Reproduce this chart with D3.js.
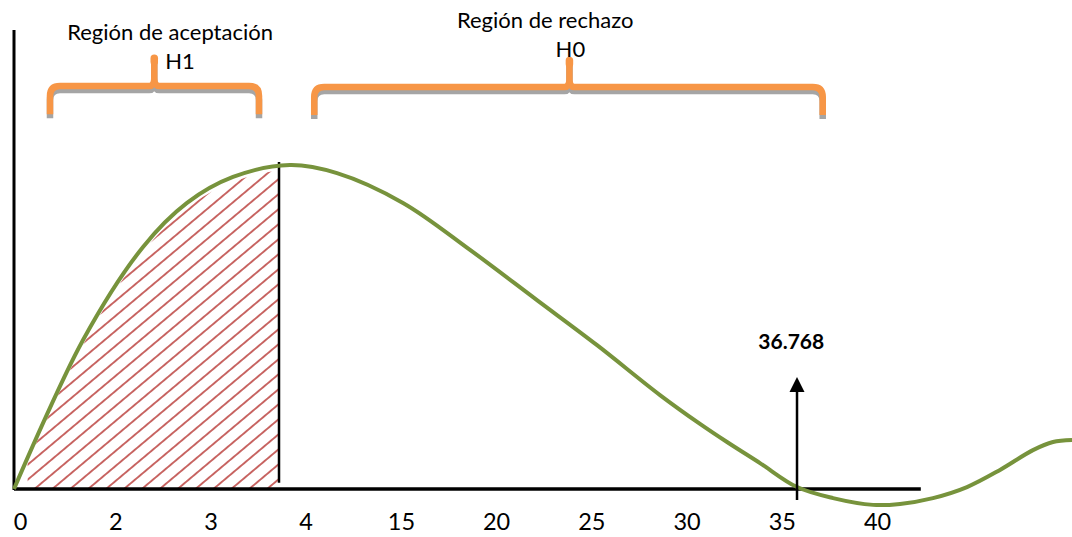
<!DOCTYPE html>
<html>
<head>
<meta charset="utf-8">
<script src="https://cdn.jsdelivr.net/npm/d3@7"></script>
<style>
  html, body { margin: 0; padding: 0; background: #fff; }
  svg { display: block; }
  text { font-family: Lato, "Open Sans", sans-serif; fill: #000; }
</style>
</head>
<body>
<svg id="chart" width="1072" height="537"></svg>
<script>
// ---- data ----
const tickLabels = ["0", "2", "3", "4", "15", "20", "25", "30", "35", "40"];
// curve: position along the label index axis, density value
const curveIdx = [-0.063, 0.662, 1.292, 1.754, 2.237, 2.835, 3.329, 4.022, 4.726, 5.429, 6.060, 6.721, 7.141, 7.425, 7.771, 8.160, 8.538, 8.958, 9.242, 9.588, 9.945, 10.292, 10.638, 10.848, 11.048];
const curveVal = [0.0000, 0.0460, 0.0747, 0.0883, 0.0963, 0.1000, 0.0975, 0.0883, 0.0738, 0.0583, 0.0444, 0.0290, 0.0201, 0.0145, 0.0080, 0.0006, -0.0028, -0.0049, -0.0046, -0.0028, 0.0006, 0.0059, 0.0120, 0.0145, 0.0151];
const criticalIdx = 2.72;          // vertical line closing the shaded area
const statIdx = 8.16;              // arrow position
const statLabel = "36.768";
const regionNames = ["Región de aceptación", "Región de rechazo"];
const regionHyp = ["H1", "H0"];
const regionStart = [0.315, 3.09];
const regionEnd = [2.51, 8.43];
const regionTip = [1.41, 5.77];

// ---- scales ----
const svg = d3.select("#chart");
const xs = d3.scaleLinear().domain([0, 9]).range([20, 877]);
const ys = d3.scaleLinear().domain([0, 0.1]).range([489, 165]);
const pts = curveIdx.map((u, i) => ({u, v: curveVal[i]}));
const curveType = d3.curveCatmullRom.alpha(0.5);

// ---- hatch pattern ----
const defs = svg.append("defs");
const pat = defs.append("pattern").attr("id", "hatch")
  .attr("patternUnits", "userSpaceOnUse").attr("width", 11.5).attr("height", 11.5)
  .attr("patternTransform", "rotate(50)");
pat.append("line").attr("x1", 5.75).attr("y1", -2).attr("x2", 5.75).attr("y2", 14)
  .attr("stroke", "#C0504D").attr("stroke-width", 1.7);

const clip = defs.append("clipPath").attr("id", "underCurve");
const areaGen = d3.area().x(d => xs(d.u)).y0(ys(0) - 1).y1(d => ys(d.v) + 5).curve(curveType);
clip.append("path").attr("d", areaGen(pts.filter(d => d.u <= 3.4)));
const clip2 = defs.append("clipPath").attr("id", "leftOfCrit");
clip2.append("rect").attr("x", xs(0.08)).attr("y", 0).attr("width", xs(criticalIdx) - xs(0.08)).attr("height", 537);

svg.append("g").attr("clip-path", "url(#leftOfCrit)")
  .append("rect").attr("clip-path", "url(#underCurve)")
  .attr("x", 0).attr("y", 0).attr("width", 1072).attr("height", 537)
  .attr("fill", "url(#hatch)");

// ---- axes ----
const x0 = xs(-0.063);
svg.append("line").attr("x1", x0).attr("x2", x0).attr("y1", ys(0.1417)).attr("y2", ys(-0.0003))
  .attr("stroke", "#000").attr("stroke-width", 3);
svg.append("line").attr("x1", x0).attr("x2", xs(9.46)).attr("y1", ys(0)).attr("y2", ys(0))
  .attr("stroke", "#000").attr("stroke-width", 3.5);

const axis = d3.axisBottom(xs).tickValues(d3.range(tickLabels.length))
  .tickFormat(i => tickLabels[i]).tickSize(0).tickPadding(24);
const gx = svg.append("g").attr("transform", `translate(0,${ys(0)})`).call(axis);
gx.select(".domain").remove();
gx.selectAll("text").attr("font-size", 23.5).attr("font-family", "Lato, 'Open Sans', sans-serif").attr("fill", "#000");

// ---- critical line ----
svg.append("line").attr("x1", xs(criticalIdx)).attr("x2", xs(criticalIdx))
  .attr("y1", ys(0.1009)).attr("y2", ys(0.0019))
  .attr("stroke", "#000").attr("stroke-width", 2.5);

// ---- curve ----
svg.append("path").attr("d", d3.line().x(d => xs(d.u)).y(d => ys(d.v)).curve(curveType)(pts))
  .attr("fill", "none").attr("stroke", "#77933C").attr("stroke-width", 4);

// ---- arrow ----
const ax = xs(statIdx);
svg.append("line").attr("x1", ax).attr("x2", ax).attr("y1", ys(-0.0034)).attr("y2", ys(0.031))
  .attr("stroke", "#000").attr("stroke-width", 2.5);
const tipY = ys(0.0346), baseY = ys(0.0299);
svg.append("path").attr("d", `M${ax},${tipY} L${ax - 7.5},${baseY} L${ax + 7.5},${baseY} Z`).attr("fill", "#000");
svg.append("text").attr("x", xs(8.10)).attr("y", ys(0.0432)).attr("text-anchor", "middle")
  .attr("font-size", 21).attr("font-weight", "bold").text(statLabel);

// ---- braces and region labels ----
const bandV = [0.1244, 0.1241], bottomV = [0.1157, 0.1154], tipV = [0.1340, 0.1333];
const nameX = [1.576, 5.515], nameV = [0.1386, 0.1424], hypX = [1.68, 5.78], hypV = [0.1296, 0.1333];
function bracePath(i) {
  const a = xs(regionStart[i]), b = xs(regionEnd[i]), m = xs(regionTip[i]);
  const yt = ys(bandV[i]), yb = ys(bottomV[i]), yk = ys(tipV[i]);
  const r = 10;
  return `M${a},${yb} V${yt + r} Q${a},${yt} ${a + r},${yt} H${m - 5} Q${m},${yt} ${m},${yt - 8} V${yk + 3}` +
         ` M${m},${yt - 8} Q${m},${yt} ${m + 5},${yt} H${b - r} Q${b},${yt} ${b},${yt + r} V${yb}`;
}
[0, 1].forEach(i => {
  svg.append("path").attr("d", bracePath(i)).attr("transform", "translate(0,4)")
    .attr("fill", "none").attr("stroke", "#A5A5A5").attr("stroke-width", 6.5);
  svg.append("path").attr("d", bracePath(i))
    .attr("fill", "none").attr("stroke", "#F79646").attr("stroke-width", 6.5).attr("stroke-linecap", "butt");
  svg.append("line").attr("x1", xs(regionTip[i])).attr("x2", xs(regionTip[i]))
    .attr("y1", ys(tipV[i]) + 3.5).attr("y2", ys(tipV[i]) + 7)
    .attr("stroke", "#F79646").attr("stroke-width", 7.5).attr("stroke-linecap", "round");
  svg.append("text").attr("x", xs(nameX[i])).attr("y", ys(nameV[i])).attr("text-anchor", "middle")
    .attr("font-size", 22).text(regionNames[i]);
  svg.append("text").attr("x", xs(hypX[i])).attr("y", ys(hypV[i])).attr("text-anchor", "middle")
    .attr("font-size", 22).text(regionHyp[i]);
});
</script>
</body>
</html>
